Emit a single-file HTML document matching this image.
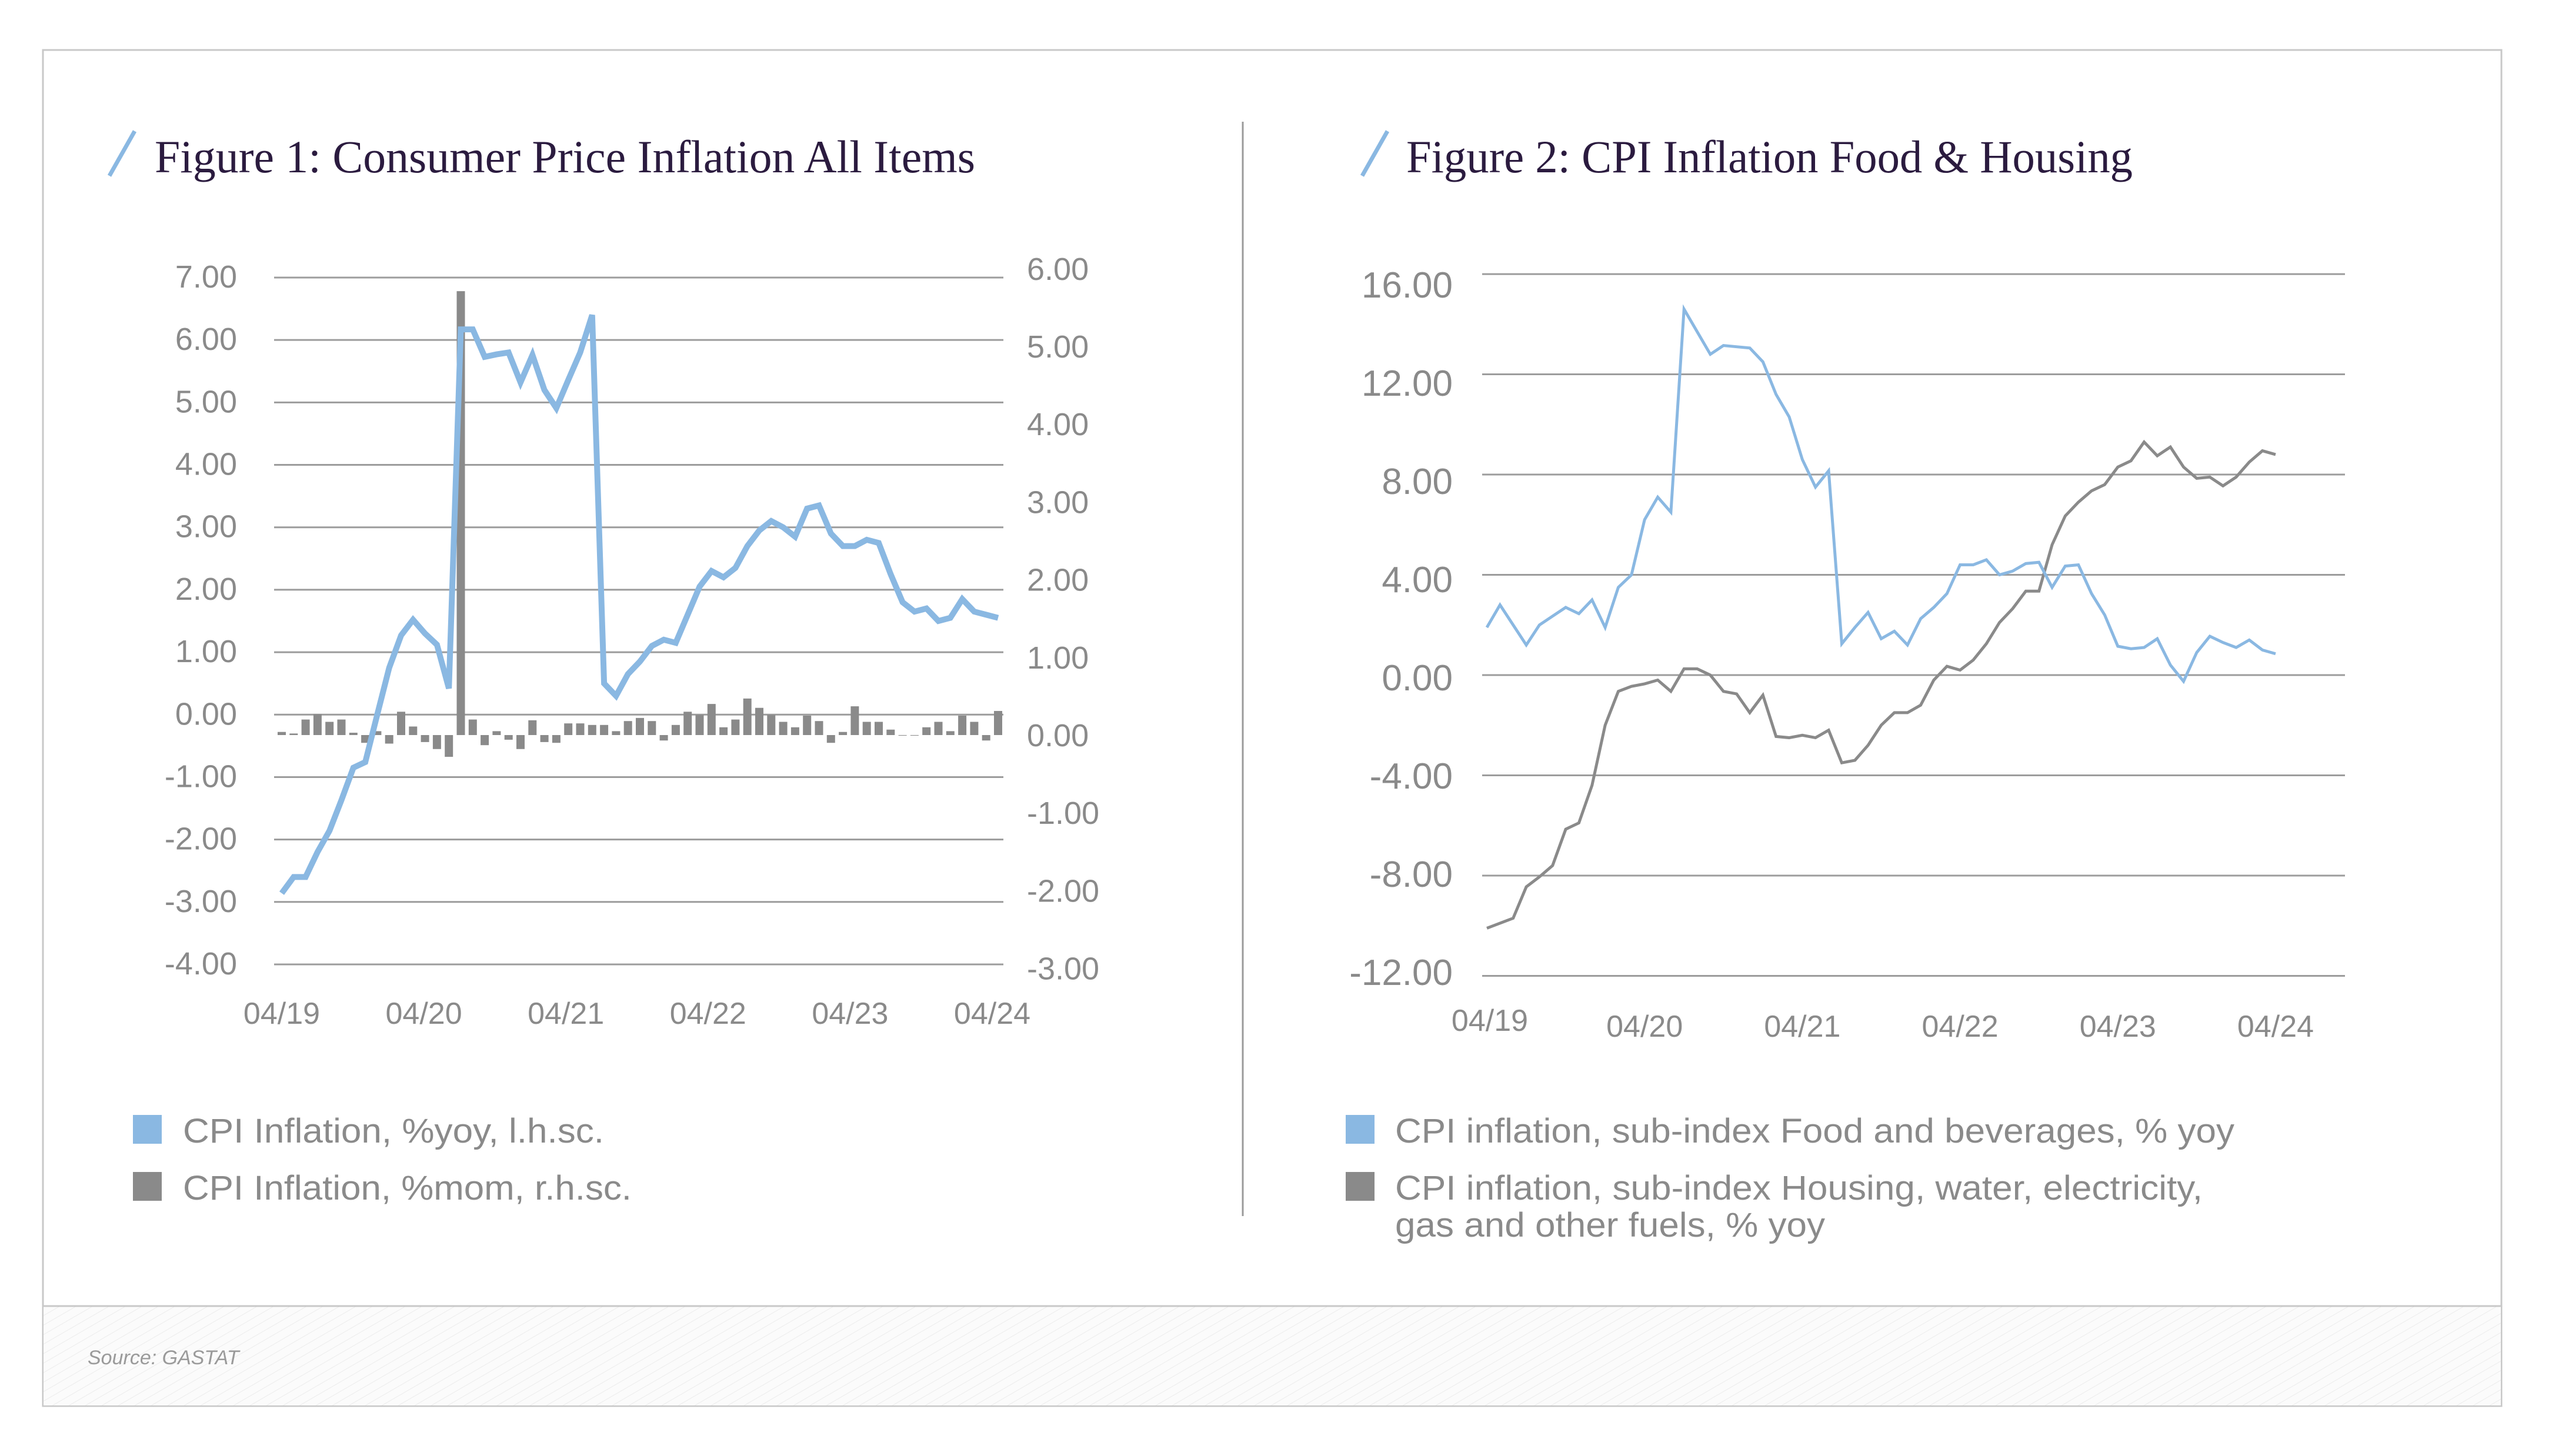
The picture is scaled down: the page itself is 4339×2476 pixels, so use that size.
<!DOCTYPE html>
<html><head><meta charset="utf-8"><style>
html,body{margin:0;padding:0;background:#fff;}
svg{display:block;}
text{font-family:"Liberation Sans",sans-serif;}
</style></head><body>
<svg id="s" xmlns="http://www.w3.org/2000/svg" width="4339" height="2476" viewBox="0 0 4339 2476">
<defs>
<pattern id="hatch" width="14" height="14" patternUnits="userSpaceOnUse" patternTransform="rotate(60)">
<rect width="14" height="14" fill="#fbfbfb"/><line x1="0" y1="0" x2="0" y2="14" stroke="#ececec" stroke-width="2"/>
</pattern>
</defs>
<rect x="73" y="85" width="4180" height="2306" fill="#fff" stroke="#c8c8c8" stroke-width="3"/>
<rect x="74" y="2221" width="4178" height="169" fill="url(#hatch)"/>
<line x1="73" y1="2221" x2="4253" y2="2221" stroke="#c8c8c8" stroke-width="3"/>
<text x="149" y="2320" font-size="34" font-style="italic" fill="#9a9a9a">Source: GASTAT</text>
<line x1="2113" y1="207" x2="2113" y2="2068" stroke="#9a9a9a" stroke-width="3"/>

<line x1="229" y1="223" x2="186" y2="299" stroke="#8ab8e2" stroke-width="7"/>
<text x="263" y="293" font-size="78" fill="#2b1b3f" style="font-family:'Liberation Serif',serif" textLength="1395" lengthAdjust="spacingAndGlyphs">Figure 1: Consumer Price Inflation All Items</text>
<line x1="2359" y1="223" x2="2316" y2="299" stroke="#8ab8e2" stroke-width="7"/>
<text x="2391" y="293" font-size="78" fill="#2b1b3f" style="font-family:'Liberation Serif',serif" textLength="1235" lengthAdjust="spacingAndGlyphs">Figure 2: CPI Inflation Food &amp; Housing</text>

<g id="c1"></g>
<g id="c2"></g>

<rect x="226" y="1896" width="49" height="49" fill="#8ab8e2"/>
<text x="311" y="1943" font-size="58" fill="#8a8a8a" textLength="716" lengthAdjust="spacingAndGlyphs">CPI Inflation, %yoy, l.h.sc.</text>
<rect x="226" y="1993" width="49" height="49" fill="#8a8a8a"/>
<text x="311" y="2040" font-size="58" fill="#8a8a8a" textLength="763" lengthAdjust="spacingAndGlyphs">CPI Inflation, %mom, r.h.sc.</text>

<rect x="2288" y="1896" width="49" height="49" fill="#8ab8e2"/>
<text x="2372" y="1943" font-size="58" fill="#8a8a8a" textLength="1427" lengthAdjust="spacingAndGlyphs">CPI inflation, sub-index Food and beverages, % yoy</text>
<rect x="2288" y="1993" width="49" height="49" fill="#8a8a8a"/>
<text x="2372" y="2040" font-size="58" fill="#8a8a8a" textLength="1373" lengthAdjust="spacingAndGlyphs">CPI inflation, sub-index Housing, water, electricity,</text>
<text x="2372" y="2103" font-size="58" fill="#8a8a8a" textLength="731" lengthAdjust="spacingAndGlyphs">gas and other fuels, % yoy</text>
</svg>
<script>
const NS='http://www.w3.org/2000/svg';
// ---- Figure 1 data ----
const xLabels1=['04/19','04/20','04/21','04/22','04/23','04/24'];
const leftTicks=[7,6,5,4,3,2,1,0,-1,-2,-3,-4];
const rightTicks=[6,5,4,3,2,1,0,-1,-2,-3];
const yoy=[-2.86,-2.6,-2.6,-2.2,-1.86,-1.37,-0.85,-0.76,0.0,0.75,1.27,1.52,1.3,1.12,0.42,6.17,6.17,5.73,5.77,5.8,5.32,5.76,5.2,4.91,5.36,5.8,6.4,0.5,0.3,0.65,0.85,1.1,1.2,1.15,1.6,2.05,2.3,2.2,2.35,2.7,2.95,3.1,3.0,2.85,3.3,3.35,2.9,2.7,2.7,2.8,2.75,2.25,1.8,1.65,1.7,1.5,1.55,1.85,1.65,1.6,1.55];
const mom=[0.04,0.02,0.2,0.27,0.17,0.2,0.03,-0.1,0.05,-0.11,0.3,0.11,-0.09,-0.18,-0.28,5.71,0.2,-0.13,0.05,-0.06,-0.18,0.19,-0.09,-0.1,0.15,0.15,0.13,0.13,0.05,0.18,0.22,0.18,-0.07,0.13,0.3,0.26,0.4,0.1,0.2,0.47,0.35,0.26,0.17,0.1,0.25,0.18,-0.1,0.04,0.37,0.17,0.17,0.07,0,0,0.1,0.17,0.05,0.25,0.17,-0.07,0.31];
// ---- Figure 2 data ----
const xLabels2=['04/19','04/20','04/21','04/22','04/23','04/24'];
const ticks2=[16,12,8,4,0,-4,-8,-12];
const food=[1.9,2.8,2.0,1.2,2.0,2.35,2.7,2.45,3.0,1.9,3.5,4.0,6.2,7.1,6.5,14.6,13.7,12.8,13.15,13.1,13.05,12.5,11.2,10.3,8.6,7.5,8.15,1.25,1.9,2.5,1.45,1.75,1.2,2.25,2.7,3.25,4.4,4.4,4.6,4.0,4.15,4.45,4.5,3.5,4.35,4.4,3.25,2.4,1.15,1.05,1.1,1.45,0.4,-0.25,0.9,1.55,1.3,1.1,1.4,1.0,0.85];
const housing=[-10.1,-9.9,-9.7,-8.45,-8.05,-7.6,-6.15,-5.9,-4.4,-2.0,-0.65,-0.45,-0.35,-0.2,-0.65,0.25,0.25,0,-0.65,-0.75,-1.5,-0.8,-2.45,-2.5,-2.4,-2.5,-2.2,-3.5,-3.4,-2.8,-2.0,-1.5,-1.5,-1.2,-0.2,0.35,0.2,0.6,1.25,2.1,2.65,3.35,3.35,5.2,6.35,6.9,7.35,7.6,8.3,8.55,9.3,8.75,9.1,8.3,7.85,7.9,7.55,7.9,8.5,8.95,8.8];

function mk(tag,attrs,parent,txt){const e=document.createElementNS(NS,tag);for(const k in attrs)e.setAttribute(k,attrs[k]);if(txt!==undefined)e.textContent=txt;parent.appendChild(e);return e;}
const fmt=v=>v.toFixed(2);

// Figure 1 scales
const c1=document.getElementById('c1');
const x1=i=>479+i*20.3;
const yL=v=>472+(7-v)*106.18;
const yR=v=>1250-v*132.2;
leftTicks.forEach(v=>{
  const g=mk('line',{x1:466,x2:1706,y1:yL(v),y2:yL(v),stroke:'#9c9c9c','stroke-width':3},c1);
  
  
  const t=mk('text',{x:403,y:yL(v)+17,'font-size':54,fill:'#8a8a8a','text-anchor':'end'},c1,fmt(v));
  
  
});
rightTicks.forEach(v=>{
  const t=mk('text',{x:1746,y:yR(v)+19,'font-size':54,fill:'#8a8a8a'},c1,fmt(v));
  
  
});
xLabels1.forEach((l,k)=>{
  const t=mk('text',{x:x1(k*12)-(k*2),y:1741,'font-size':52,fill:'#8a8a8a','text-anchor':'middle'},c1,l);
  
  
});
mom.forEach((v,i)=>{
  const y0=yR(0),y1=yR(v);
  const b=mk('rect',{x:x1(i)-7,y:Math.min(y0,y1),width:14,height:Math.max(1,Math.abs(y1-y0)),fill:'#8a8a8a'},c1);
  
  
});
const p1=mk('polyline',{points:yoy.map((v,i)=>x1(i)+','+yL(v)).join(' '),fill:'none',stroke:'#8ab8e2','stroke-width':10,'stroke-linejoin':'miter','stroke-miterlimit':4},c1);



// Figure 2 scales
const c2=document.getElementById('c2');
const x2=i=>2528+i*22.35;
const y2=v=>1148-v*42.62;
const lab2=v=>484+(16-v)/4*167;
ticks2.forEach(v=>{
  const g=mk('line',{x1:2520,x2:3987,y1:y2(v),y2:y2(v),stroke:'#9c9c9c','stroke-width':3},c2);
  
  
  const t=mk('text',{x:2470,y:lab2(v)+22,'font-size':62,fill:'#8a8a8a','text-anchor':'end'},c2,fmt(v));
  
  
});
xLabels2.forEach((l,k)=>{
  const t=mk('text',{x:x2(k*12)+(k===0?5:0),y:k===0?1753:1763,'font-size':52,fill:'#8a8a8a','text-anchor':'middle'},c2,l);
  
  
});
const ph=mk('polyline',{points:housing.map((v,i)=>x2(i)+','+y2(v)).join(' '),fill:'none',stroke:'#8a8a8a','stroke-width':5},c2);


const pf=mk('polyline',{points:food.map((v,i)=>x2(i)+','+y2(v)).join(' '),fill:'none',stroke:'#8ab8e2','stroke-width':5},c2);


</script>
</body></html>
